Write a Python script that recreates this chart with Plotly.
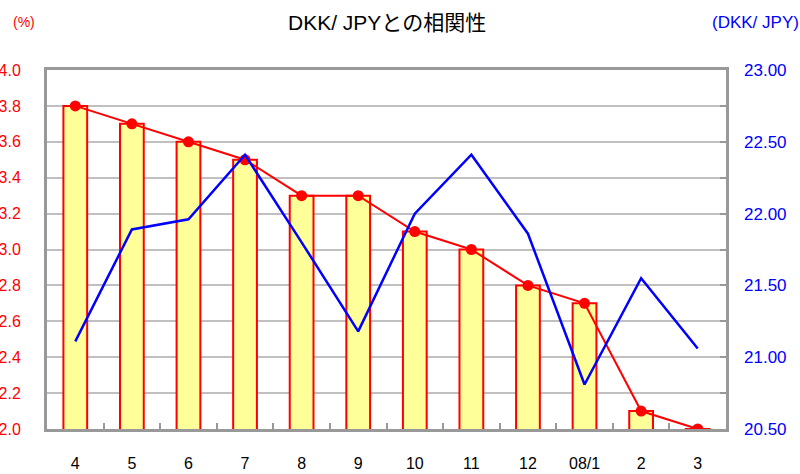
import plotly.graph_objects as go

# categories (months)
months = ["4", "5", "6", "7", "8", "9", "10", "11", "12", "08/1", "2", "3"]
# rate (%) - bars and red line
rate = [3.8, 3.7, 3.6, 3.5, 3.3, 3.3, 3.1, 3.0, 2.8, 2.7, 2.1, 2.0]
# DKK/JPY - blue line (right axis)
dkk_jpy = [21.11, 21.89, 21.96, 22.41, 21.80, 21.18, 22.00, 22.41, 21.86, 20.81, 21.55, 21.06]

font_main = "Liberation Sans, Arial, Noto Sans CJK JP"

fig = go.Figure()

fig.add_trace(go.Bar(
    x=months, y=rate, width=0.42,
    marker=dict(color="#ffff99", line=dict(color="#ff0000", width=2)),
    showlegend=False,
))
fig.add_trace(go.Scatter(
    x=months, y=rate, mode="lines+markers",
    line=dict(color="#ff0000", width=2),
    marker=dict(color="#ff0000", size=11),
    showlegend=False,
))
fig.add_trace(go.Scatter(
    x=months, y=dkk_jpy, mode="lines", yaxis="y2",
    line=dict(color="#0000ff", width=2.5),
    showlegend=False,
))

fig.update_layout(
    width=800, height=474,
    margin=dict(l=47, r=74, t=70, b=45, autoexpand=False),
    plot_bgcolor="white", paper_bgcolor="white",
    font=dict(family=font_main, size=15, color="black"),
    xaxis=dict(
        type="category", range=[-0.5, len(months) - 0.5],
        showgrid=False, showline=True, mirror=True,
        linecolor="#999999", linewidth=3, automargin=False,
        ticks="inside", tickson="boundaries", ticklen=6, tickcolor="#999999", tickwidth=2,
        ticklabelstandoff=18, tickfont=dict(size=16, color="black"),
    ),
    yaxis=dict(
        range=[2.0, 4.0], dtick=0.2, tickformat=".1f",
        showgrid=True, gridcolor="#c0c0c0", gridwidth=2,
        showline=True, mirror=True, linecolor="#999999", linewidth=3,
        ticks="", zeroline=False, ticklabelstandoff=20, automargin=False,
        tickfont=dict(size=16, color="#ff0000"),
    ),
    yaxis2=dict(
        range=[20.5, 23.0], dtick=0.5, tickformat=".2f",
        overlaying="y", side="right", showgrid=False, zeroline=False,
        ticks="inside", ticklen=6, tickcolor="#999999", tickwidth=2,
        minor=dict(dtick=0.25, ticks="inside", ticklen=6, tickcolor="#999999", tickwidth=2),
        ticklabelstandoff=17, automargin=False,
        tickfont=dict(size=17, color="#0000ff"),
    ),
    bargap=0.6,
    annotations=[
        dict(text="DKK/ JPYとの相関性", x=0.5, y=22, xref="paper", yref="paper",
             xanchor="center", yanchor="middle", showarrow=False,
             font=dict(size=21, color="black")),
        dict(text="(%)", x=24, y=22, xref="paper", yref="paper",
             xanchor="center", yanchor="middle", showarrow=False,
             font=dict(size=14, color="#ff0000")),
        dict(text="(DKK/ JPY)", x=755, y=22, xref="paper", yref="paper",
             xanchor="center", yanchor="middle", showarrow=False,
             font=dict(size=17, color="#0000ff")),
    ],
)

# place header annotations in pixel coordinates
pw = 800 - 47 - 74
ph = 474 - 70 - 45
for ann in fig.layout.annotations:
    px = ann.x if ann.x > 1 else 47 + ann.x * pw
    ann.x = (px - 47) / pw
    ann.y = (474 - 45 - ann.y) / ph

# drop the default page margin so the figure sits at the window's corner
fig.write_html("out.html", config={"displayModeBar": False},
               post_script="document.body.style.margin='0';")
